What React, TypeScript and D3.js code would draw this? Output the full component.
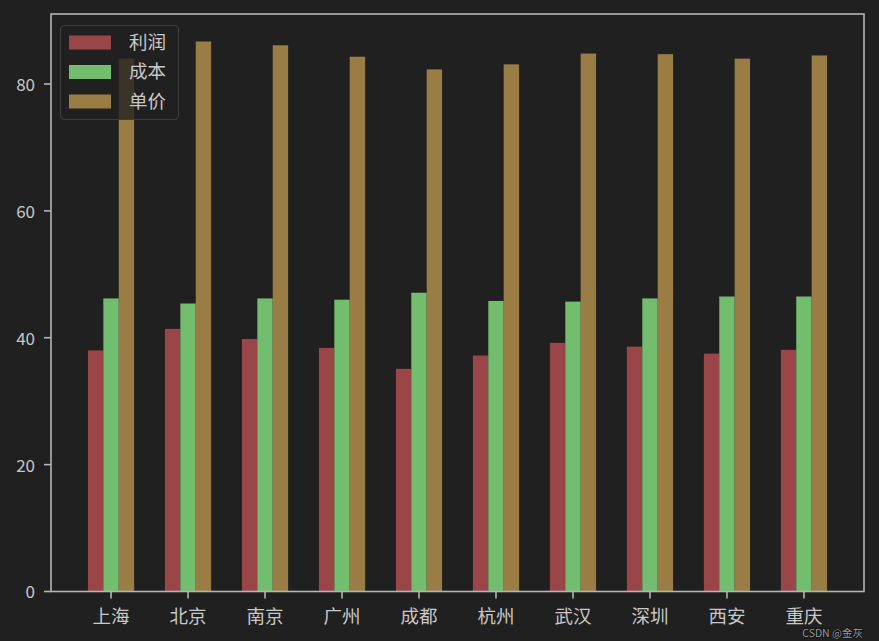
import React from 'react';
import * as d3 from 'd3';

// city list + three series
const cities = ['上海', '北京', '南京', '广州', '成都', '杭州', '武汉', '深圳', '西安', '重庆'];
const profit = [38.0, 41.4, 39.8, 38.4, 35.1, 37.2, 39.2, 38.6, 37.5, 38.1];
const cost = [46.2, 45.4, 46.2, 46.0, 47.1, 45.8, 45.7, 46.2, 46.5, 46.5];
const price = [84.0, 86.7, 86.1, 84.3, 82.3, 83.1, 84.8, 84.7, 84.0, 84.5];
const seriesNames = ['利润', '成本', '单价'];
const seriesColors = ['#9a4648', '#73bd6f', '#9a7d45'];
const yTicks = [0, 20, 40, 60, 80];

const W = 879;
const H = 641;
const margin = {left: 51, right: 15, top: 14, bottom: 49.5};
const FONT = '"Noto Sans CJK SC", "Noto Sans", sans-serif';
const TXT = '#c8c8c8';
const AXIS = '#b4b4b4';

export default function App() {
    const series = [profit, cost, price];
    const x = d3.scaleLinear()
        .domain([-0.78, cities.length - 1 + 0.78])
        .range([margin.left, W - margin.right]);
    const y = d3.scaleLinear()
        .domain([0, d3.max(price) * 1.05])
        .range([H - margin.bottom, margin.top]);
    const barW = x(0.2) - x(0);

    return (
        <svg width={W} height={H} style={{position: 'absolute', left: 0, top: 0, background: '#202020'}}
             fontFamily={FONT}>
            <rect x={0} y={0} width={W} height={H} fill="#202020" />

            {/* bars */}
            {series.map((vals, s) => (
                <g key={s} fill={seriesColors[s]}>
                    {vals.map((v, i) => (
                        <rect key={i}
                              x={x(i) + (s - 1.5) * barW}
                              y={y(v)}
                              width={barW}
                              height={y(0) - y(v)} />
                    ))}
                </g>
            ))}

            {/* frame */}
            <rect x={margin.left} y={margin.top}
                  width={W - margin.left - margin.right}
                  height={H - margin.top - margin.bottom}
                  fill="none" stroke={AXIS} strokeWidth={1.6} />

            {/* y axis */}
            {yTicks.map(t => (
                <g key={t}>
                    <line x1={margin.left - 7} x2={margin.left} y1={y(t)} y2={y(t)} stroke={AXIS} strokeWidth={1.6} />
                    <text x={margin.left - 16} y={y(t) + 1} dy="0.35em" textAnchor="end" fontSize={17} fill={TXT}>{t}</text>
                </g>
            ))}

            {/* x axis */}
            {cities.map((c, i) => (
                <g key={c}>
                    <line x1={x(i)} x2={x(i)} y1={y(0)} y2={y(0) + 7} stroke={AXIS} strokeWidth={1.6} />
                    <text x={x(i)} y={y(0) + 25} dy="0.35em" textAnchor="middle" fontSize={18.5} fill={TXT}>{c}</text>
                </g>
            ))}

            {/* legend */}
            <g transform="translate(60.5,25.5)">
                <rect width={118} height={94} rx={4} fill="rgba(32,32,32,0.8)" stroke="#3c3c3c" strokeWidth={1.2} />
                {seriesNames.map((n, s) => (
                    <g key={n} transform={`translate(0,${10 + s * 29.5})`}>
                        <rect x={8.5} y={0} width={42} height={14} fill={seriesColors[s]} />
                        <text x={68.5} y={7} dy="0.35em" fontSize={18.5} fill={TXT}>{n}</text>
                    </g>
                ))}
            </g>

            {/* watermark, nudged below the last tick label */}
            <text x={863} y={637} textAnchor="end" fontSize={10.5} fill="#9a9a9a"
                  style={{paintOrder: 'stroke'}} stroke="#111" strokeWidth={1.5}>CSDN @金灰</text>
        </svg>
    );
}
